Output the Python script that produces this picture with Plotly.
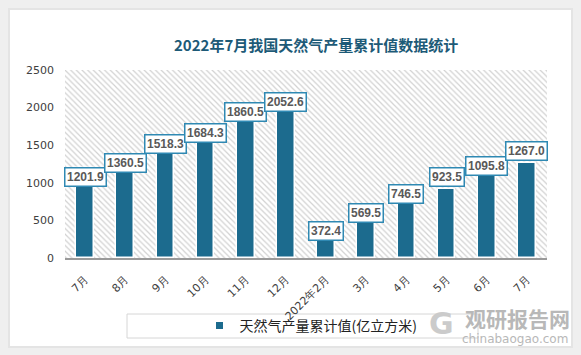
import plotly.graph_objects as go

categories = ['7月', '8月', '9月', '10月', '11月', '12月', '2022年2月', '3月', '4月', '5月', '6月', '7月']
values = [1201.9, 1360.5, 1518.3, 1684.3, 1860.5, 2052.6, 372.4, 569.5, 746.5, 923.5, 1095.8, 1267.0]
y_ticks = [0, 500, 1000, 1500, 2000, 2500]
series_name = '天然气产量累计值(亿立方米)'
title = '2022年7月我国天然气产量累计值数据统计'

# label vertical offsets (pixels, style only)
label_dy = [-9, -7, 0, -2, 6, 2, -1, 2, 8, 12, 10, 12]

x = list(range(len(categories)))
bar_color = '#1c6b8e'
FW, FH = 581.0, 355.0

def cx(p): return p / FW
def cy(p): return 1 - p / FH

fig = go.Figure()
# hatched plot-area background
fig.add_trace(go.Bar(
    x=x, y=[y_ticks[-1]] * len(x), width=1,
    marker=dict(color='white', line=dict(width=0),
                pattern=dict(shape='\\', fgcolor='#d2d2d2', bgcolor='white',
                             size=4, solidity=0.3, fillmode='replace')),
    showlegend=False, hoverinfo='skip'))
fig.add_trace(go.Bar(
    x=x, y=values, width=0.44, name=series_name,
    marker=dict(color=bar_color, line=dict(color='white', width=1.5)),
    showlegend=False))
# legend entry (small square swatch like the reference)
fig.add_trace(go.Scatter(
    x=[None], y=[None], mode='markers', name=series_name,
    marker=dict(symbol='square', size=7, color=bar_color), showlegend=True))

for xi, v, dy in zip(x, values, label_dy):
    fig.add_annotation(
        x=xi, y=v, xref='x', yref='y', text=f'{v:.1f}', showarrow=False,
        xanchor='center', yanchor='middle',
        yshift=dy, font=dict(family='Liberation Sans', size=12, color='#595959', weight='bold'),
        bgcolor='white', bordercolor='#2f89b3', borderwidth=1.5, borderpad=1.5)

W = 482.0; H = 188.0
def px(xp): return (xp - 65) / W
def py(yp): return (258 - yp) / H

fig.add_annotation(x=px(316), y=py(45), xref='paper', yref='paper', xanchor='center', yanchor='middle',
                   text=f'<b>{title}</b>', showarrow=False,
                   font=dict(family='Noto Sans CJK SC', size=15, color='#1d5a77'))

# watermark
fig.add_annotation(x=px(517), y=py(318), xref='paper', yref='paper', showarrow=False,
                   xanchor='center', yanchor='middle',
                   text='<b>观研报告网</b>', font=dict(family='Noto Sans CJK SC', size=21, color='#b8b8b8'))
fig.add_annotation(x=px(515), y=py(339), xref='paper', yref='paper', showarrow=False,
                   xanchor='center', yanchor='middle',
                   text='chinabaogao.com', font=dict(family='DejaVu Sans', size=12, color='#b8b8b8'))
fig.add_annotation(x=px(441), y=py(323), xref='paper', yref='paper', showarrow=False,
                   xanchor='center', yanchor='middle',
                   text='<b>G</b>', font=dict(family='DejaVu Sans', size=30, color='#cbcbcb'))

shapes = [
    dict(type='rect', xref='paper', yref='paper', x0=px(8), x1=px(573), y0=py(348), y1=py(8),
         fillcolor='#e4e4e4', line=dict(width=0), layer='below'),
    dict(type='rect', xref='paper', yref='paper', x0=px(10), x1=px(571), y0=py(346), y1=py(10),
         fillcolor='white', line=dict(width=0), layer='below'),
    dict(type='rect', xref='paper', yref='paper', x0=px(127), x1=px(478), y0=py(338), y1=py(314),
         fillcolor='rgba(0,0,0,0)', line=dict(color='#d6d6d6', width=1), layer='below'),
]

fig.update_layout(
    width=581, height=355,
    margin=dict(l=65, r=34, t=70, b=97, autoexpand=False),
    paper_bgcolor='#efefef', plot_bgcolor='rgba(0,0,0,0)',
    barmode='overlay', bargap=0,
    shapes=shapes,
    showlegend=True,
    legend=dict(orientation='h', xref='container', yref='container',
                x=cx(311), xanchor='center', y=cy(326), yanchor='middle',
                bgcolor='rgba(0,0,0,0)', font=dict(family='Noto Sans CJK SC', size=14, color='#222222'),
                itemwidth=30),
    xaxis=dict(tickmode='array', tickvals=x, ticktext=categories, tickangle=-45,
               range=[-0.5, len(x) - 0.5], showgrid=False, zeroline=False, automargin=False,
               showline=True, linecolor='#9a9a9a', linewidth=1.5, ticks='', ticklabelstandoff=9,
               tickfont=dict(family='DejaVu Sans', size=11, color='#404040')),
    yaxis=dict(tickmode='array', tickvals=y_ticks, range=[0, y_ticks[-1]], showgrid=False,
               zeroline=False, showline=False, ticks='', ticklabelstandoff=10, automargin=False,
               tickfont=dict(family='DejaVu Sans', size=11, color='#404040')),
)

fig.write_html('out.html', post_script="document.body.style.margin='0';",
               config={'displayModeBar': False})
